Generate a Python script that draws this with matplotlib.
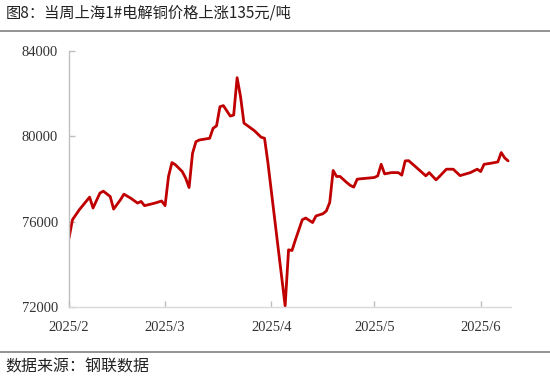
import matplotlib
matplotlib.use("Agg")
import matplotlib.pyplot as plt
import pandas as pd
from matplotlib.lines import Line2D

title = "图8：当周上海1#电解铜价格上涨135元/吨"
source = "数据来源：钢联数据"

dates = [
    "2025-02-01", "2025-02-02", "2025-02-04", "2025-02-07", "2025-02-08", "2025-02-10",
    "2025-02-11", "2025-02-13", "2025-02-14", "2025-02-16", "2025-02-17", "2025-02-19",
    "2025-02-21", "2025-02-22", "2025-02-23", "2025-02-26", "2025-02-28", "2025-03-01",
    "2025-03-02", "2025-03-03", "2025-03-04", "2025-03-06", "2025-03-07", "2025-03-08",
    "2025-03-09", "2025-03-10", "2025-03-11", "2025-03-14", "2025-03-15", "2025-03-16",
    "2025-03-17", "2025-03-18", "2025-03-20", "2025-03-21", "2025-03-22", "2025-03-23",
    "2025-03-24", "2025-03-27", "2025-03-29", "2025-03-30", "2025-03-31", "2025-04-01",
    "2025-04-02", "2025-04-03", "2025-04-04", "2025-04-05", "2025-04-06", "2025-04-07",
    "2025-04-08", "2025-04-10", "2025-04-11", "2025-04-13", "2025-04-14", "2025-04-16",
    "2025-04-17", "2025-04-18", "2025-04-19", "2025-04-20", "2025-04-21", "2025-04-23",
    "2025-04-24", "2025-04-25", "2025-04-26", "2025-04-27", "2025-05-01", "2025-05-02",
    "2025-05-03", "2025-05-04", "2025-05-06", "2025-05-08", "2025-05-09", "2025-05-10",
    "2025-05-11", "2025-05-13", "2025-05-16", "2025-05-17", "2025-05-19", "2025-05-20",
    "2025-05-22", "2025-05-24", "2025-05-26", "2025-05-29", "2025-05-31", "2025-06-01",
    "2025-06-02", "2025-06-04", "2025-06-06", "2025-06-07", "2025-06-08", "2025-06-09",
]
prices = [
    75230, 76090, 76560, 77150, 76640, 77340,
    77430, 77180, 76590, 77030, 77290, 77100,
    76870, 76950, 76750, 76870, 76970, 76750,
    78120, 78770, 78670, 78350, 78040, 77600,
    79200, 79750, 79830, 79910, 80380, 80490,
    81390, 81440, 80950, 81000, 82750, 81860,
    80620, 80270, 79960, 79910, 78740, 77400,
    76060, 74720, 73390, 72050, 74680, 74650,
    75150, 76090, 76170, 75960, 76270, 76370,
    76500, 76900, 78400, 78120, 78120, 77830,
    77700, 77620, 77990, 78010, 78070, 78150,
    78690, 78240, 78300, 78300, 78180, 78850,
    78860, 78580, 78150, 78300, 77960, 78120,
    78460, 78460, 78160, 78300, 78460, 78350,
    78690, 78740, 78800, 79240, 78990, 78850,
]
y_ticks = [72000, 76000, 80000, 84000]
x_ticks = ["2025-02-01", "2025-03-01", "2025-04-01", "2025-05-01", "2025-06-01"]
x_tick_labels = ["2025/2", "2025/3", "2025/4", "2025/5", "2025/6"]

x = pd.to_datetime(dates)

fig = plt.figure(figsize=(5.5, 3.81), dpi=100)
ax = fig.add_axes([0.1255, 0.1942, 0.803, 0.6719])
ax.plot(x, prices, color="#C00000", lw=2.0, solid_joinstyle="round", solid_capstyle="round")

ax.set_ylim(72000, 84000)
ax.set_xlim(pd.Timestamp("2025-02-01"), pd.Timestamp("2025-06-09 18:00"))
ax.set_yticks(y_ticks)
ax.set_xticks(pd.to_datetime(x_ticks))
ax.set_xticklabels(x_tick_labels)

for s in ["top", "right"]:
    ax.spines[s].set_visible(False)
ax.spines["left"].set_color("#bfbfbf")
ax.spines["bottom"].set_color("#d9d9d9")
ax.spines["left"].set_linewidth(1.0)
ax.spines["bottom"].set_linewidth(1.0)
ax.tick_params(axis="both", direction="in", length=4, color="#bfbfbf", width=1.0,
               labelsize=10.5, labelcolor="#333333")
ax.tick_params(axis="y", pad=8)
ax.tick_params(axis="x", pad=10)
for lab in ax.get_xticklabels() + ax.get_yticklabels():
    lab.set_fontfamily("Liberation Serif")

fig.text(0.01, 0.965, title, fontsize=11, family=["Noto Sans CJK SC", "DejaVu Sans"],
         va="center", ha="left", color="#222222")
fig.text(0.01, 0.037, source, fontsize=11.5, family=["Noto Sans CJK SC", "DejaVu Sans"],
         va="center", ha="left", color="#222222")
fig.add_artist(Line2D([0, 1], [0.9186, 0.9186], transform=fig.transFigure, color="#808080", lw=1.2))
fig.add_artist(Line2D([0, 1], [0.076, 0.076], transform=fig.transFigure, color="#808080", lw=1.2))

fig.savefig("out.png", dpi=100)
